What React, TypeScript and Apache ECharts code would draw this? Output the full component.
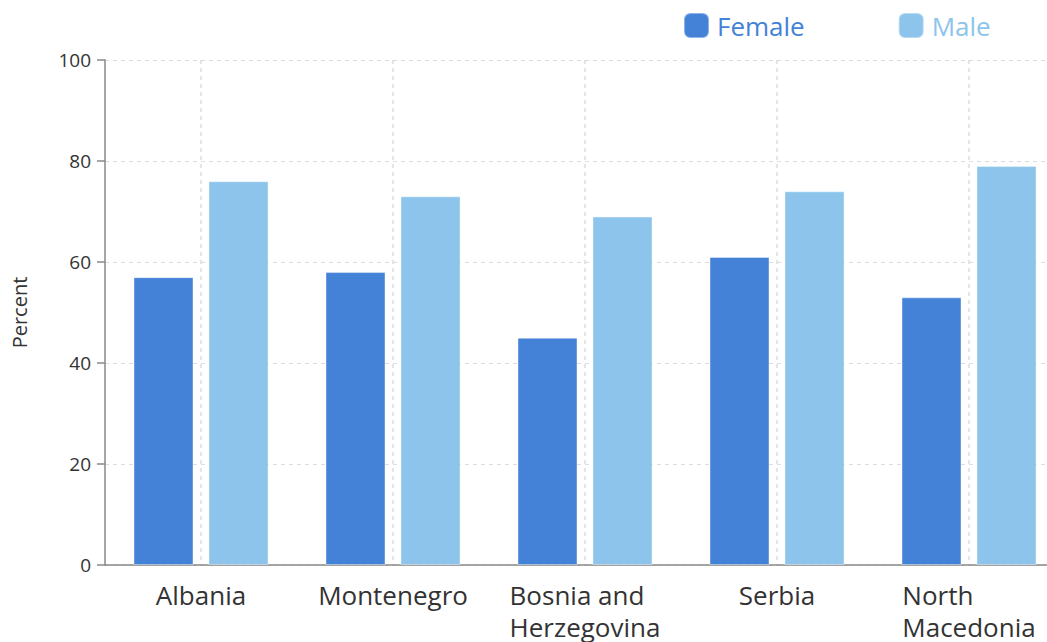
import React, { useEffect, useRef } from "react";
import * as echarts from "echarts";

const categories = ["Albania", "Montenegro", "Bosnia and\nHerzegovina", "Serbia", "North\nMacedonia"];
const female = [57, 58, 45, 61, 53];
const male = [76, 73, 69, 74, 79];
const yTicks = { min: 0, max: 100, interval: 20 };
const FEMALE_COLOR = "#4482D8";
const MALE_COLOR = "#8CC4EB";
const FONT = "'Open Sans', Lato, sans-serif";

export default function App() {
  const ref = useRef<HTMLDivElement>(null);
  useEffect(() => {
    document.body.style.margin = "0";
    const chart = echarts.init(ref.current!, null, { renderer: "svg" });
    chart.setOption({
      animation: false,
      textStyle: { fontFamily: FONT },
      legend: {
        top: 12,
        left: 683,
        padding: 0,
        itemWidth: 25,
        itemHeight: 25,
        itemGap: 93,
        icon: "roundRect",
        textStyle: { fontSize: 26, fontFamily: FONT, padding: [0, 0, 0, 3] },
        data: [
          { name: "Female", textStyle: { color: FEMALE_COLOR } },
          { name: "Male", textStyle: { color: MALE_COLOR } },
        ],
      },
      grid: { left: 105, top: 60, right: -18, bottom: 77, outerBoundsMode: "none", containLabel: false },
      xAxis: {
        type: "category",
        data: categories,
        axisLine: { lineStyle: { color: "#888", width: 1.5 } },
        axisTick: { alignWithLabel: true, length: 8, lineStyle: { color: "#888", width: 1.5 } },
        axisLabel: {
          color: "#333",
          margin: 14,
          interval: 0,
          formatter: (v: string) => v.split("\n").map((l) => `{l|${l}}`).join("\n"),
          rich: { l: { align: "left", fontSize: 26, lineHeight: 32, color: "#333", fontFamily: FONT } },
        },
        splitLine: { show: true, alignWithLabel: true, lineStyle: { color: "#ddd", type: [4, 4], width: 1.5 } },
      },
      yAxis: {
        type: "value",
        min: yTicks.min,
        max: yTicks.max,
        interval: yTicks.interval,
        name: "Percent",
        nameLocation: "middle",
        nameGap: 76,
        nameTextStyle: { color: "#333", fontSize: 20, fontFamily: FONT },
        axisLine: { show: true, lineStyle: { color: "#888", width: 1.5 } },
        axisTick: { show: true, length: 8, lineStyle: { color: "#888", width: 1.5 } },
        axisLabel: { color: "#333", fontSize: 19, margin: 14, fontFamily: FONT },
        splitLine: { lineStyle: { color: "#ddd", type: [4, 4], width: 1 } },
      },
      series: [
        {
          name: "Female",
          type: "bar",
          data: female,
          barWidth: 60,
          barGap: "25%",
          itemStyle: { color: FEMALE_COLOR, borderColor: "rgba(255,255,255,0.4)", borderWidth: 1 },
        },
        {
          name: "Male",
          type: "bar",
          data: male,
          barWidth: 60,
          barGap: "25%",
          itemStyle: { color: MALE_COLOR, borderColor: "rgba(255,255,255,0.4)", borderWidth: 1 },
        },
      ],
    });
    return () => chart.dispose();
  }, []);
  return <div ref={ref} style={{ width: 1047, height: 642 }} />;
}
